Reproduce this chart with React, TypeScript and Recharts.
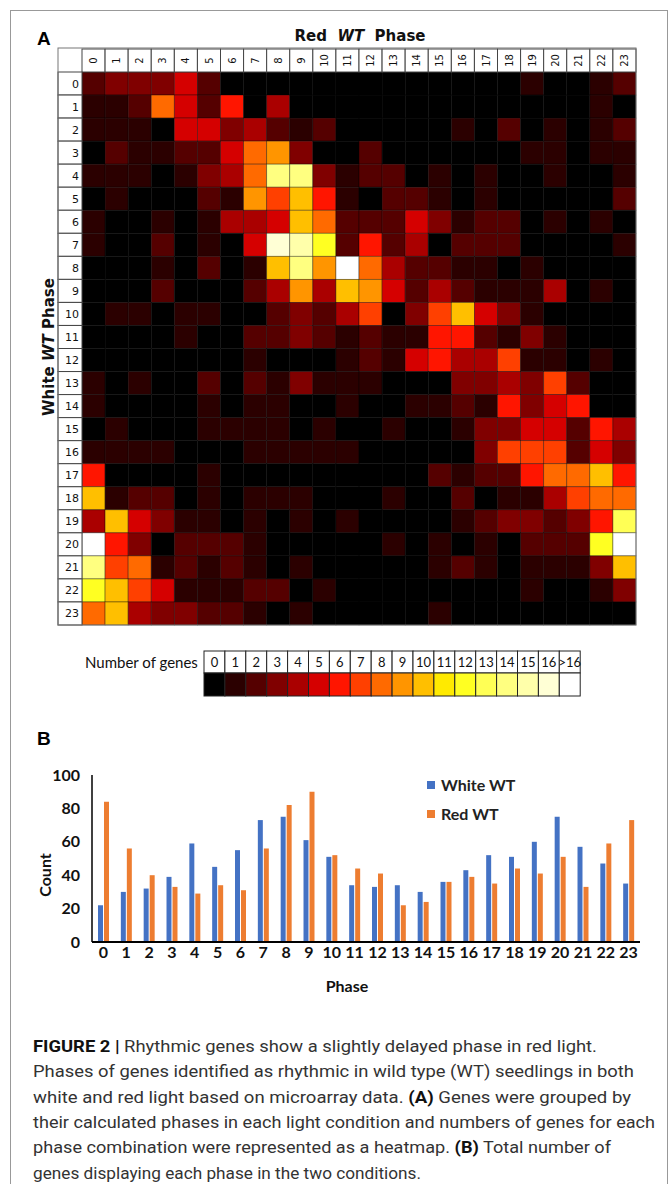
import React from "react";
import { ScatterChart, Scatter, XAxis, YAxis, BarChart, Bar, Legend } from "recharts";

const phases = [0, 1, 2, 3, 4, 5, 6, 7, 8, 9, 10, 11, 12, 13, 14, 15, 16, 17, 18, 19, 20, 21, 22, 23];

const binLabels = ["0", "1", "2", "3", "4", "5", "6", "7", "8", "9", "10", "11", "12", "13", "14", "15", "16", ">16"];
const binColors = [
  "#000000", "#2b0000", "#550000", "#800000", "#aa0000", "#d50000", "#ff1500", "#ff4000", "#ff6a00",
  "#ff9500", "#ffbf00", "#ffea00", "#ffff22", "#ffff55", "#ffff80", "#ffffaa", "#ffffd5", "#ffffff",
];

// rows = White WT phase 0..23, columns = Red WT phase 0..23 (17 means >16)
const geneCounts = [
  [2, 3, 3, 3, 5, 2, 0, 0, 0, 0, 0, 0, 0, 0, 0, 0, 0, 0, 0, 1, 0, 0, 1, 2],
  [1, 1, 2, 8, 5, 2, 6, 0, 4, 0, 0, 0, 0, 0, 0, 0, 0, 0, 0, 0, 0, 0, 1, 0],
  [1, 1, 1, 0, 5, 5, 3, 4, 2, 1, 2, 0, 0, 0, 0, 0, 1, 0, 2, 0, 1, 0, 1, 2],
  [0, 2, 1, 1, 2, 2, 5, 8, 9, 3, 0, 0, 2, 0, 0, 0, 0, 0, 0, 1, 1, 0, 1, 1],
  [1, 1, 1, 0, 1, 3, 4, 8, 14, 14, 3, 1, 2, 2, 0, 1, 0, 1, 0, 0, 1, 0, 0, 1],
  [0, 1, 0, 0, 0, 2, 1, 9, 7, 10, 6, 1, 0, 2, 2, 1, 0, 1, 0, 0, 0, 0, 0, 2],
  [1, 0, 0, 1, 0, 1, 4, 4, 5, 10, 8, 2, 2, 2, 5, 3, 1, 2, 2, 0, 1, 0, 1, 0],
  [1, 0, 0, 2, 0, 1, 0, 5, 16, 15, 12, 2, 6, 2, 4, 0, 2, 2, 2, 0, 0, 0, 0, 1],
  [0, 0, 0, 1, 0, 2, 0, 1, 10, 14, 9, 17, 8, 4, 2, 2, 1, 1, 0, 1, 0, 0, 0, 0],
  [0, 0, 0, 2, 0, 0, 0, 2, 4, 9, 4, 10, 9, 5, 2, 4, 2, 1, 1, 1, 4, 0, 1, 0],
  [0, 1, 1, 0, 1, 1, 0, 0, 2, 3, 2, 4, 7, 0, 3, 7, 10, 5, 3, 1, 0, 0, 0, 0],
  [0, 0, 0, 0, 1, 0, 0, 2, 2, 3, 2, 1, 2, 1, 1, 6, 6, 2, 1, 3, 1, 0, 0, 0],
  [0, 0, 0, 0, 0, 0, 0, 1, 0, 0, 0, 1, 2, 1, 5, 6, 4, 4, 7, 1, 1, 0, 1, 0],
  [1, 0, 1, 0, 0, 2, 0, 2, 1, 3, 1, 1, 1, 0, 0, 0, 3, 3, 4, 3, 7, 2, 0, 0],
  [1, 0, 0, 0, 0, 1, 0, 1, 1, 0, 0, 1, 0, 0, 1, 1, 2, 1, 6, 3, 5, 6, 0, 0],
  [0, 1, 0, 0, 0, 1, 1, 1, 1, 0, 1, 0, 0, 1, 0, 0, 1, 3, 3, 5, 5, 2, 6, 4],
  [1, 1, 1, 1, 0, 0, 0, 1, 1, 1, 1, 1, 0, 0, 0, 0, 0, 3, 7, 7, 7, 2, 5, 3],
  [6, 0, 0, 0, 0, 1, 0, 0, 0, 0, 0, 0, 0, 0, 0, 2, 1, 2, 2, 6, 8, 8, 10, 6],
  [10, 1, 2, 2, 0, 1, 0, 1, 1, 1, 0, 0, 0, 1, 0, 0, 2, 0, 1, 1, 4, 7, 8, 8],
  [4, 10, 5, 3, 1, 1, 0, 1, 0, 1, 0, 1, 0, 0, 0, 0, 1, 2, 3, 3, 2, 3, 6, 13],
  [17, 6, 3, 0, 2, 2, 2, 1, 0, 0, 0, 0, 0, 1, 0, 1, 0, 1, 0, 2, 2, 2, 12, 17],
  [14, 7, 8, 1, 2, 1, 2, 1, 0, 1, 0, 0, 0, 0, 0, 1, 2, 1, 0, 1, 1, 1, 3, 10],
  [12, 10, 7, 5, 1, 1, 1, 2, 2, 0, 1, 0, 0, 0, 0, 0, 0, 0, 0, 1, 0, 0, 1, 3],
  [8, 10, 4, 3, 3, 2, 2, 1, 0, 1, 0, 0, 0, 0, 0, 1, 0, 0, 0, 0, 0, 0, 0, 0],
];

const whiteWT = [22, 30, 32, 39, 59, 45, 55, 73, 75, 61, 51, 34, 33, 34, 30, 36, 43, 52, 51, 60, 75, 57, 47, 35];
const redWT = [84, 56, 40, 33, 29, 34, 31, 56, 82, 90, 52, 44, 41, 22, 24, 36, 39, 35, 44, 41, 51, 33, 59, 73];
const countTicks = [0, 20, 40, 60, 80, 100];

const BLUE = "#4472c4";
const ORANGE = "#ed7d31";

// heatmap plot box
const HM_LEFT = 82;
const HM_TOP = 72;
const HM_W = 554;
const HM_H = 553;
const CELL_W = HM_W / 24;
const CELL_H = HM_H / 24;

const cells = geneCounts.flatMap((row, r) => row.map((v, c) => ({ red: c, white: r, v })));
const barData = phases.map((p, i) => ({ phase: p, white: whiteWT[i], red: redWT[i] }));

const label = "'DejaVu Sans', Verdana, sans-serif";
const calibri = "Lato, 'Open Sans', sans-serif";

function HeatCell(props: any) {
  const { cx, cy, payload } = props;
  const fill = binColors[Math.min(payload.v, binColors.length - 1)];
  return (
    <rect
      x={cx - CELL_W / 2}
      y={cy - CELL_H / 2}
      width={CELL_W}
      height={CELL_H}
      fill={fill}
      stroke="#000"
      strokeOpacity={0.45}
      strokeWidth={0.8}
    />
  );
}

function ColTick(props: any) {
  const { x, payload } = props;
  return (
    <g>
      <rect x={x - CELL_W / 2} y={HM_TOP - 23} width={CELL_W} height={23} fill="#fff" stroke="#444" />
      <text
        transform={`translate(${x + 3.6},${HM_TOP - 11.5}) rotate(-90)`}
        textAnchor="middle"
        fontSize={10}
        fontFamily={label}
        fill="#111"
      >
        {payload.value}
      </text>
    </g>
  );
}

function RowTick(props: any) {
  const { y, payload } = props;
  return (
    <g>
      <rect x={HM_LEFT - 24} y={y - CELL_H / 2} width={24} height={CELL_H} fill="#fff" stroke="#444" />
      <text x={HM_LEFT - 3} y={y + 4} textAnchor="end" fontSize={11} fontFamily={label} fill="#111">
        {payload.value}
      </text>
    </g>
  );
}

function Heatmap() {
  return (
    <div style={{ position: "absolute", left: 0, top: 0 }}>
      <ScatterChart width={671} height={640} margin={{ top: 48, right: 671 - HM_LEFT - HM_W, bottom: 640 - HM_TOP - HM_H, left: 58 }}>
        <XAxis
          type="number"
          dataKey="red"
          orientation="top"
          domain={[-0.5, 23.5]}
          ticks={phases}
          interval={0}
          height={24}
          axisLine={false}
          tickLine={false}
          tick={(p: any) => <ColTick {...p} />}
        />
        <YAxis
          type="number"
          dataKey="white"
          reversed
          domain={[-0.5, 23.5]}
          ticks={phases}
          interval={0}
          width={24}
          axisLine={false}
          tickLine={false}
          tick={(p: any) => <RowTick {...p} />}
        />
        <Scatter data={cells} isAnimationActive={false} shape={(p: any) => <HeatCell {...p} />} />
      </ScatterChart>
    </div>
  );
}

function BarLegend() {
  const items = [
    { name: "White WT", color: BLUE },
    { name: "Red WT", color: ORANGE },
  ];
  return (
    <div>
      {items.map((it) => (
        <div key={it.name} style={{ display: "flex", alignItems: "center", height: 29 }}>
          <span style={{ width: 8, height: 8, background: it.color, marginRight: 6 }} />
          <span style={{ fontFamily: calibri, fontWeight: 700, fontSize: 16, color: "#222" }}>{it.name}</span>
        </div>
      ))}
    </div>
  );
}

function CountChart() {
  const tickStyle = { fontFamily: calibri, fontWeight: 700, fontSize: 16, fill: "#111" };
  return (
    <div style={{ position: "absolute", left: 0, top: 760 }}>
      <BarChart width={671} height={250} data={barData} margin={{ top: 15, right: 31, bottom: 10, left: 52 }} barSize={5} barGap={1}>
        <XAxis
          dataKey="phase"
          interval={0}
          height={58}
          tickLine={false}
          tickSize={0}
          tickMargin={5}
          axisLine={{ stroke: "#000", strokeWidth: 2 }}
          tick={tickStyle}
        />
        <YAxis
          domain={[0, 100]}
          ticks={countTicks}
          width={40}
          tickLine={false}
          tickSize={0}
          tickMargin={12}
          axisLine={{ stroke: "#000", strokeWidth: 1.5 }}
          tick={tickStyle}
        />
        <Legend
          layout="vertical"
          align="center"
          verticalAlign="middle"
          content={() => <BarLegend />}
          wrapperStyle={{ left: 427, top: 10, width: 150 }}
        />
        <Bar dataKey="white" name="White WT" fill={BLUE} isAnimationActive={false} />
        <Bar dataKey="red" name="Red WT" fill={ORANGE} isAnimationActive={false} />
      </BarChart>
    </div>
  );
}

const captionLines: { parts: { t: string; b?: boolean }[]; w: number }[] = [
  { parts: [{ t: "FIGURE 2 | ", b: true }, { t: "Rhythmic genes show a slightly delayed phase in red light." }], w: 564 },
  { parts: [{ t: "Phases of genes identified as rhythmic in wild type (WT) seedlings in both" }], w: 601 },
  { parts: [{ t: "white and red light based on microarray data. " }, { t: "(A)", b: true }, { t: " Genes were grouped by" }], w: 598 },
  { parts: [{ t: "their calculated phases in each light condition and numbers of genes for each" }], w: 622 },
  { parts: [{ t: "phase combination were represented as a heatmap. " }, { t: "(B)", b: true }, { t: " Total number of" }], w: 578 },
  { parts: [{ t: "genes displaying each phase in the two conditions." }], w: 388 },
];

function Overlay() {
  const boxW = 20.9;
  return (
    <svg width={671} height={1184} style={{ position: "absolute", left: 0, top: 0, pointerEvents: "none" }}>
      <rect x={10.5} y={10.5} width={657} height={1200} fill="none" stroke="#999" />
      <text x={37} y={45} fontFamily="'Liberation Sans', Arial" fontWeight={700} fontSize={19}>A</text>
      <text x={360} y={41} textAnchor="middle" fontFamily={label} fontWeight={700} fontSize={15} fill="#111" xmlSpace="preserve">
        Red  <tspan fontStyle="italic">WT</tspan>  Phase
      </text>
      <text
        transform="translate(53.5,347) rotate(-90)"
        textAnchor="middle"
        fontFamily={label}
        fontWeight={700}
        fontSize={15}
        fill="#111"
      >
        White <tspan fontStyle="italic">WT</tspan> Phase
      </text>
      <rect x={HM_LEFT - 24} y={HM_TOP - 24} width={HM_W + 24} height={HM_H + 24} fill="none" stroke="#777" />

      <text x={85} y={668} fontFamily={calibri} fontSize={15} fill="#111">Number of genes</text>
      {binLabels.map((lab, i) => (
        <g key={lab}>
          <rect x={204 + i * boxW} y={651} width={boxW} height={22} fill="#fff" stroke="#222" />
          <rect x={204 + i * boxW} y={673} width={boxW} height={23} fill={binColors[i]} stroke="#222" />
          <text x={204 + i * boxW + boxW / 2} y={667} textAnchor="middle" fontFamily={calibri} fontSize={13} fill="#111">
            {lab}
          </text>
        </g>
      ))}

      <text x={37} y={745} fontFamily="'Liberation Sans', Arial" fontWeight={700} fontSize={19}>B</text>
      <text transform="translate(51,875) rotate(-90)" textAnchor="middle" fontFamily={calibri} fontWeight={700} fontSize={16} fill="#111">
        Count
      </text>
      <text x={347} y={992} textAnchor="middle" fontFamily={calibri} fontWeight={700} fontSize={16} fill="#111">
        Phase
      </text>

      {captionLines.map((ln, i) => (
        <text
          key={i}
          x={33}
          y={1052 + i * 25.3}
          textLength={ln.w}
          lengthAdjust="spacingAndGlyphs"
          fontFamily="'Liberation Sans Narrow', Roboto, sans-serif"
          fontSize={17}
          fill="#333"
          xmlSpace="preserve"
        >
          {ln.parts.map((pt, j) => (
            <tspan key={j} fontWeight={pt.b ? 700 : 400} fill={pt.b ? "#111" : "#333"}>
              {pt.t}
            </tspan>
          ))}
        </text>
      ))}
    </svg>
  );
}

export default function App() {
  return (
    <div style={{ position: "absolute", left: 0, top: 0, width: 671, height: 1184, background: "#fff", overflow: "hidden" }}>
      <Heatmap />
      <CountChart />
      <Overlay />
    </div>
  );
}
